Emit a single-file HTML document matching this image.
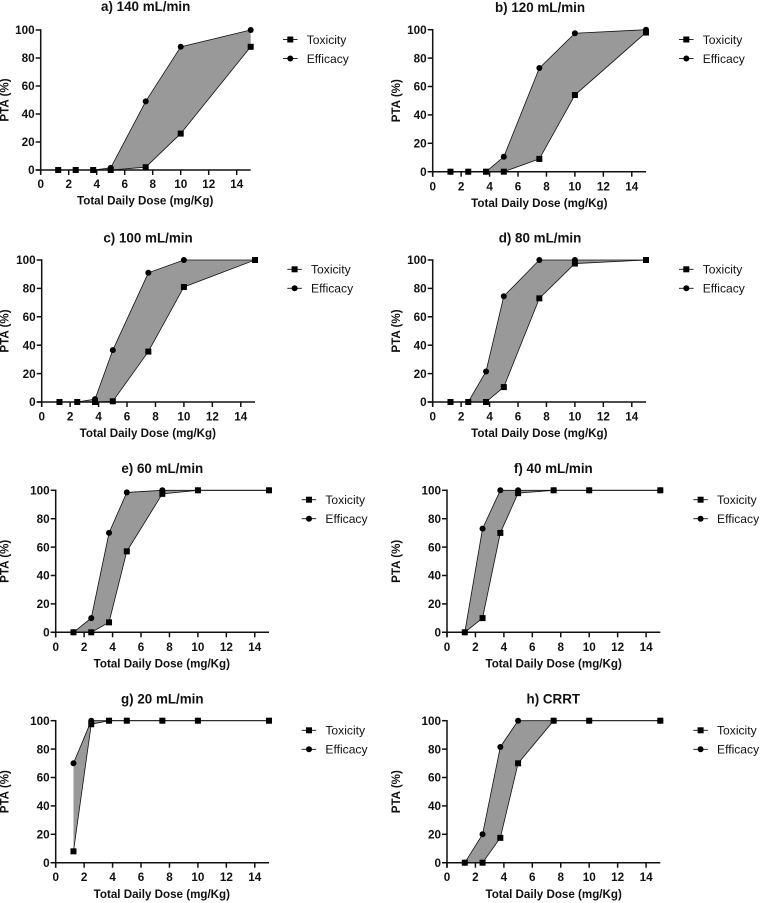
<!DOCTYPE html>
<html lang="en">
<head>
<meta charset="utf-8">
<title>PTA versus total daily dose</title>
<style>
html,body{margin:0;padding:0;background:#fff;}
svg{display:block;font-family:"Liberation Sans",Arial,sans-serif;}
.tick{font-size:11.7px;font-weight:bold;fill:#111;}
.axt{font-size:11.6px;font-weight:bold;fill:#111;}
.ttl{font-size:13.4px;font-weight:bold;fill:#111;}
.leg{font-size:12.1px;fill:#111;}
</style>
</head>
<body>
<svg id="fig" width="760" height="903" viewBox="0 0 760 903" xmlns="http://www.w3.org/2000/svg"></svg>
<script>
const doses = [1.25, 2.5, 3.75, 5, 7.5, 10, 15];
const xTickValues = [0, 2, 4, 6, 8, 10, 12, 14];
const yTickValues = [0, 20, 40, 60, 80, 100];
const seriesNames = ['Toxicity', 'Efficacy'];

const toxicity140 = [0, 0, 0, 0, 2, 26, 88];
const efficacy140 = [0, 0, 0, 1.5, 49, 88, 100];
const toxicity120 = [0, 0, 0, 0, 9, 54, 98];
const efficacy120 = [0, 0, 0, 10.5, 73, 97.5, 100];
const toxicity100 = [0, 0, 0, 0.5, 35.5, 81, 100];
const efficacy100 = [0, 0, 2, 36.5, 91, 100, 100];
const toxicity80 = [0, 0, 0, 10.5, 73, 97.5, 100];
const efficacy80 = [0, 0, 21.5, 74.5, 100, 100, 100];
const toxicity60 = [0, 0, 7, 57, 97.5, 100, 100];
const efficacy60 = [0, 10, 70, 98.5, 100, 100, 100];
const toxicity40 = [0, 10, 70, 98, 100, 100, 100];
const efficacy40 = [0, 73, 100, 100, 100, 100, 100];
const toxicity20 = [8, 97.5, 100, 100, 100, 100, 100];
const efficacy20 = [70, 100, 100, 100, 100, 100, 100];
const toxicityCRRT = [0, 0, 17.5, 70, 100, 100, 100];
const efficacyCRRT = [0, 20, 81.5, 100, 100, 100, 100];

const panels = [
  {id:'a', title:'a) 140 mL/min', tox:toxicity140, eff:efficacy140, box:{x0:40.7, x1:250.7, yTop:30, yBot:170, titleX:145.7, titleY:5.7, labelX:5, legX:283, legY:39.5, xlabY:200.3, tickY:184}},
  {id:'b', title:'b) 120 mL/min', tox:toxicity120, eff:efficacy120, box:{x0:432.7, x1:646, yTop:29.7, yBot:171.7, titleX:540, titleY:7, labelX:396.7, legX:679, legY:39.5, xlabY:202.7, tickY:186.3}},
  {id:'c', title:'c) 100 mL/min', tox:toxicity100, eff:efficacy100, box:{x0:41.7, x1:255, yTop:260, yBot:402, titleX:148, titleY:237.3, labelX:5, legX:287.3, legY:269.3, xlabY:433, tickY:416.5}},
  {id:'d', title:'d) 80 mL/min', tox:toxicity80, eff:efficacy80, box:{x0:432.7, x1:646, yTop:260, yBot:402, titleX:540, titleY:237.3, labelX:396.7, legX:679, legY:269.3, xlabY:433, tickY:416.5}},
  {id:'e', title:'e) 60 mL/min', tox:toxicity60, eff:efficacy60, box:{x0:55.7, x1:269, yTop:490.3, yBot:632.3, titleX:162.3, titleY:467.7, labelX:5, legX:301.7, legY:499.7, xlabY:663.3, tickY:646.7}},
  {id:'f', title:'f) 40 mL/min', tox:toxicity40, eff:efficacy40, box:{x0:447, x1:660.3, yTop:490.3, yBot:632.3, titleX:553.3, titleY:467.7, labelX:396.7, legX:693.3, legY:499.7, xlabY:663.3, tickY:646.7}},
  {id:'g', title:'g) 20 mL/min', tox:toxicity20, eff:efficacy20, box:{x0:55.7, x1:269, yTop:720.7, yBot:862.7, titleX:162.3, titleY:698.3, labelX:5, legX:301.7, legY:730.3, xlabY:893.7, tickY:877}},
  {id:'h', title:'h) CRRT', tox:toxicityCRRT, eff:efficacyCRRT, box:{x0:447, x1:660.3, yTop:720.7, yBot:862.7, titleX:553.3, titleY:698.3, labelX:396.7, legX:693.3, legY:730.3, xlabY:893.7, tickY:877}}
];

const NS = 'http://www.w3.org/2000/svg';
const fig = document.getElementById('fig');
const textNudge = 0.7;

function mk(parent, tag, attrs, text) {
  const el = document.createElementNS(NS, tag);
  for (const k in attrs) el.setAttribute(k, attrs[k]);
  if (text !== undefined) el.textContent = text;
  parent.appendChild(el);
  return el;
}

function drawSquare(g, cx, cy) {
  return mk(g, 'rect', {x: cx - 3, y: cy - 3, width: 6, height: 6, fill: '#000'});
}
function drawCircle(g, cx, cy) {
  return mk(g, 'circle', {cx: cx, cy: cy, r: 3, fill: '#000'});
}

panels.forEach(function (p) {
  const b = p.box;
  const sx = function (v) { return b.x0 + (v / 15) * (b.x1 - b.x0); };
  const sy = function (v) { return b.yBot - (v / 100) * (b.yBot - b.yTop); };

  const g = mk(fig, 'g', {});
  
  

  const title = mk(g, 'text', {x: b.titleX, y: b.titleY + textNudge, 'text-anchor': 'middle', 'dominant-baseline': 'central', class: 'ttl'}, p.title);
  
  

  const effPts = doses.map(function (d, i) { return sx(d).toFixed(2) + ',' + sy(p.eff[i]).toFixed(2); });
  const toxPts = doses.map(function (d, i) { return sx(d).toFixed(2) + ',' + sy(p.tox[i]).toFixed(2); });

  const band = mk(g, 'polygon', {points: effPts.concat(toxPts.slice().reverse()).join(' '), fill: '#999999', stroke: 'none'});
  
  

  // axes
  const axes = mk(g, 'g', {stroke: '#111', 'stroke-width': 1.5, fill: 'none'});
  
  
  mk(axes, 'line', {x1: b.x0, y1: b.yTop - 0.75, x2: b.x0, y2: b.yBot + 5});
  mk(axes, 'line', {x1: b.x0 - 5, y1: b.yBot, x2: b.x1, y2: b.yBot});
  xTickValues.forEach(function (v) {
    mk(axes, 'line', {x1: sx(v), y1: b.yBot, x2: sx(v), y2: b.yBot + 5});
  });
  yTickValues.forEach(function (v) {
    mk(axes, 'line', {x1: b.x0 - 5, y1: sy(v), x2: b.x0, y2: sy(v)});
  });

  xTickValues.forEach(function (v) {
    const t = mk(g, 'text', {x: sx(v), y: b.tickY + textNudge, 'text-anchor': 'middle', 'dominant-baseline': 'central', class: 'tick'}, String(v));
    
    
  });
  yTickValues.forEach(function (v) {
    const t = mk(g, 'text', {x: b.x0 - 6, y: sy(v) + textNudge, 'text-anchor': 'end', 'dominant-baseline': 'central', class: 'tick'}, String(v));
    
    
  });

  const xt = mk(g, 'text', {x: (b.x0 + b.x1) / 2 + (b.x0 < 100 ? -0.5 : 0), y: b.xlabY + textNudge, 'text-anchor': 'middle', 'dominant-baseline': 'central', class: 'axt'}, 'Total Daily Dose (mg/Kg)');
  
  

  const yMid = (b.yTop + b.yBot) / 2;
  const yt = mk(g, 'text', {x: b.labelX, y: yMid, 'text-anchor': 'middle', 'dominant-baseline': 'central', transform: 'rotate(-90 ' + b.labelX + ' ' + yMid + ')', class: 'axt'}, 'PTA (%)');
  
  

  // efficacy series
  const effG = mk(g, 'g', {});
  
  
  mk(effG, 'polyline', {points: effPts.join(' '), fill: 'none', stroke: '#111', 'stroke-width': 0.8});
  doses.forEach(function (d, i) {
    const m = drawCircle(effG, sx(d), sy(p.eff[i]));
    
    
  });

  // toxicity series
  const toxG = mk(g, 'g', {});
  
  
  mk(toxG, 'polyline', {points: toxPts.join(' '), fill: 'none', stroke: '#111', 'stroke-width': 0.8});
  doses.forEach(function (d, i) {
    const m = drawSquare(toxG, sx(d), sy(p.tox[i]));
    
    
  });

  // legend
  seriesNames.forEach(function (name, i) {
    const ly = b.legY + i * 19;
    const lg = mk(g, 'g', {});
    
    
    mk(lg, 'line', {x1: b.legX, y1: ly, x2: b.legX + 14.5, y2: ly, stroke: '#111', 'stroke-width': 0.9});
    if (i === 0) drawSquare(lg, b.legX + 7.3, ly); else drawCircle(lg, b.legX + 7.3, ly);
    mk(lg, 'text', {x: b.legX + 23.7, y: ly + 0.4, 'dominant-baseline': 'central', class: 'leg'}, name);
  });
});
</script>
</body>
</html>
